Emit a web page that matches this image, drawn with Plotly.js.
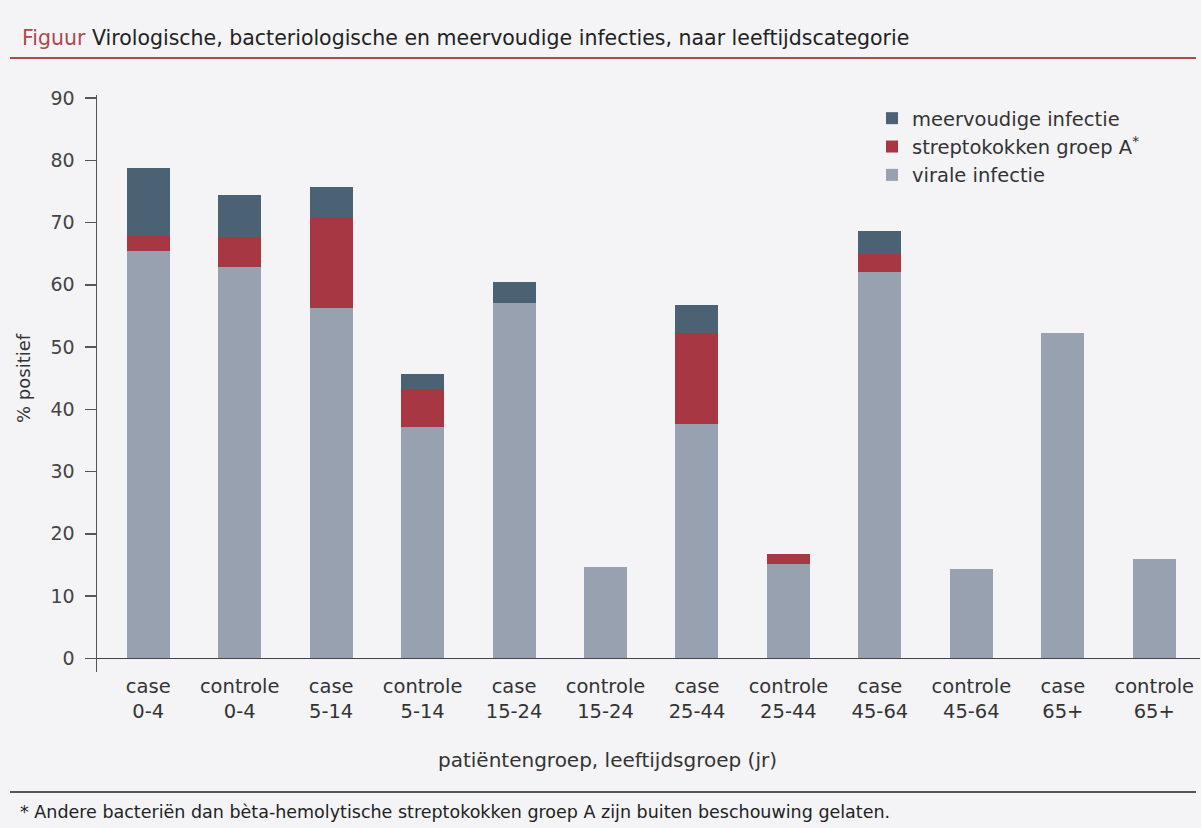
<!DOCTYPE html>
<html>
<head>
<meta charset="utf-8">
<script src="https://cdn.plot.ly/plotly-3.0.1.min.js"></script>
<style>html,body{margin:0;padding:0;background:#f4f4f7;}#chart{width:1201px;height:828px;}</style>
</head>
<body>
<div id="chart"></div>
<script>
const categories = ["case<br>0-4","controle<br>0-4","case<br>5-14","controle<br>5-14","case<br>15-24","controle<br>15-24","case<br>25-44","controle<br>25-44","case<br>45-64","controle<br>45-64","case<br>65+","controle<br>65+"];
const viraal = [65.5, 62.9, 56.3, 37.1, 57.1, 14.6, 37.7, 15.2, 62.0, 14.3, 52.2, 15.9];
const strep  = [2.4, 4.8, 14.5, 6.2, 0, 0, 14.6, 1.5, 3.0, 0, 0, 0];
const meervoudig = [10.9, 6.8, 5.0, 2.4, 3.3, 0, 4.4, 0, 3.6, 0, 0, 0];
const yTicks = [0,10,20,30,40,50,60,70,80,90];

const W = 1201, H = 828, L = 97, R = 1, T = 95, B = 156;
const pw = W - L - R, ph = H - T - B;
const px = x => (x - L) / pw;
const py = y => (H - B - y) / ph;

const font = "'DejaVu Sans', sans-serif";
const traces = [
  {type:'bar', name:'virale infectie', x:categories, y:viraal, marker:{color:'#97a1af'}, width:0.47},
  {type:'bar', name:'streptokokken groep A<sup>*</sup>', x:categories, y:strep, marker:{color:'#a83744'}, width:0.47},
  {type:'bar', name:'meervoudige infectie', x:categories, y:meervoudig, marker:{color:'#4b6275'}, width:0.47}
];

const layout = {
  width: W, height: H,
  margin:{l:L, r:R, t:T, b:B},
  paper_bgcolor:'#f4f4f7', plot_bgcolor:'#f4f4f7',
  barmode:'stack',
  showlegend:true,
  font:{family:font, color:'#333', size:19},
  legend:{x:px(872), y:py(99), xanchor:'left', yanchor:'top', bgcolor:'rgba(0,0,0,0)', font:{size:19.5, color:'#333'}, tracegroupgap:0, traceorder:'reversed'},
  xaxis:{range:[-0.56, 11.5], showgrid:false, showline:false, zeroline:false, ticks:'', tickfont:{size:19.5, color:'#333'}, fixedrange:true},
  yaxis:{range:[-2.2, 90.5], tickvals:yTicks, showgrid:false, showline:true, linecolor:'#555', linewidth:1.5,
         zeroline:true, zerolinecolor:'#444', zerolinewidth:1.5, ticks:'outside', ticklen:11, tickcolor:'#555', tickwidth:1.5,
         tickfont:{size:19, color:'#444'}, ticklabelstandoff:6},
  shapes:[
    {type:'line', xref:'paper', yref:'paper', x0:px(10), x1:px(1196), y0:py(58), y1:py(58), line:{color:'#b0474d', width:2}},
    {type:'line', xref:'paper', yref:'paper', x0:px(10), x1:px(1196), y0:py(792), y1:py(792), line:{color:'#555', width:2}}
  ],
  annotations:[
    {xref:'paper', yref:'paper', x:px(20), y:py(38), xanchor:'left', yanchor:'middle', showarrow:false,
     text:'<span style="color:#b0474d">Figuur</span> Virologische, bacteriologische en meervoudige infecties, naar leeftijdscategorie', font:{size:20.5, color:'#222'}},
    {xref:'paper', yref:'paper', x:px(607), y:py(760), xanchor:'center', yanchor:'middle', showarrow:false,
     text:'patiëntengroep, leeftijdsgroep (jr)', font:{size:20, color:'#333'}},
    {xref:'paper', yref:'paper', x:px(23), y:py(378), xanchor:'center', yanchor:'middle', showarrow:false, textangle:-90,
     text:'% positief', font:{size:18, color:'#333'}},
    {xref:'paper', yref:'paper', x:px(18), y:py(812), xanchor:'left', yanchor:'middle', showarrow:false,
     text:'* Andere bacteriën dan bèta-hemolytische streptokokken groep A zijn buiten beschouwing gelaten.', font:{size:17.5, color:'#222'}}
  ]
};

Plotly.newPlot('chart', traces, layout, {displayModeBar:false, staticPlot:true});
</script>
</body>
</html>
